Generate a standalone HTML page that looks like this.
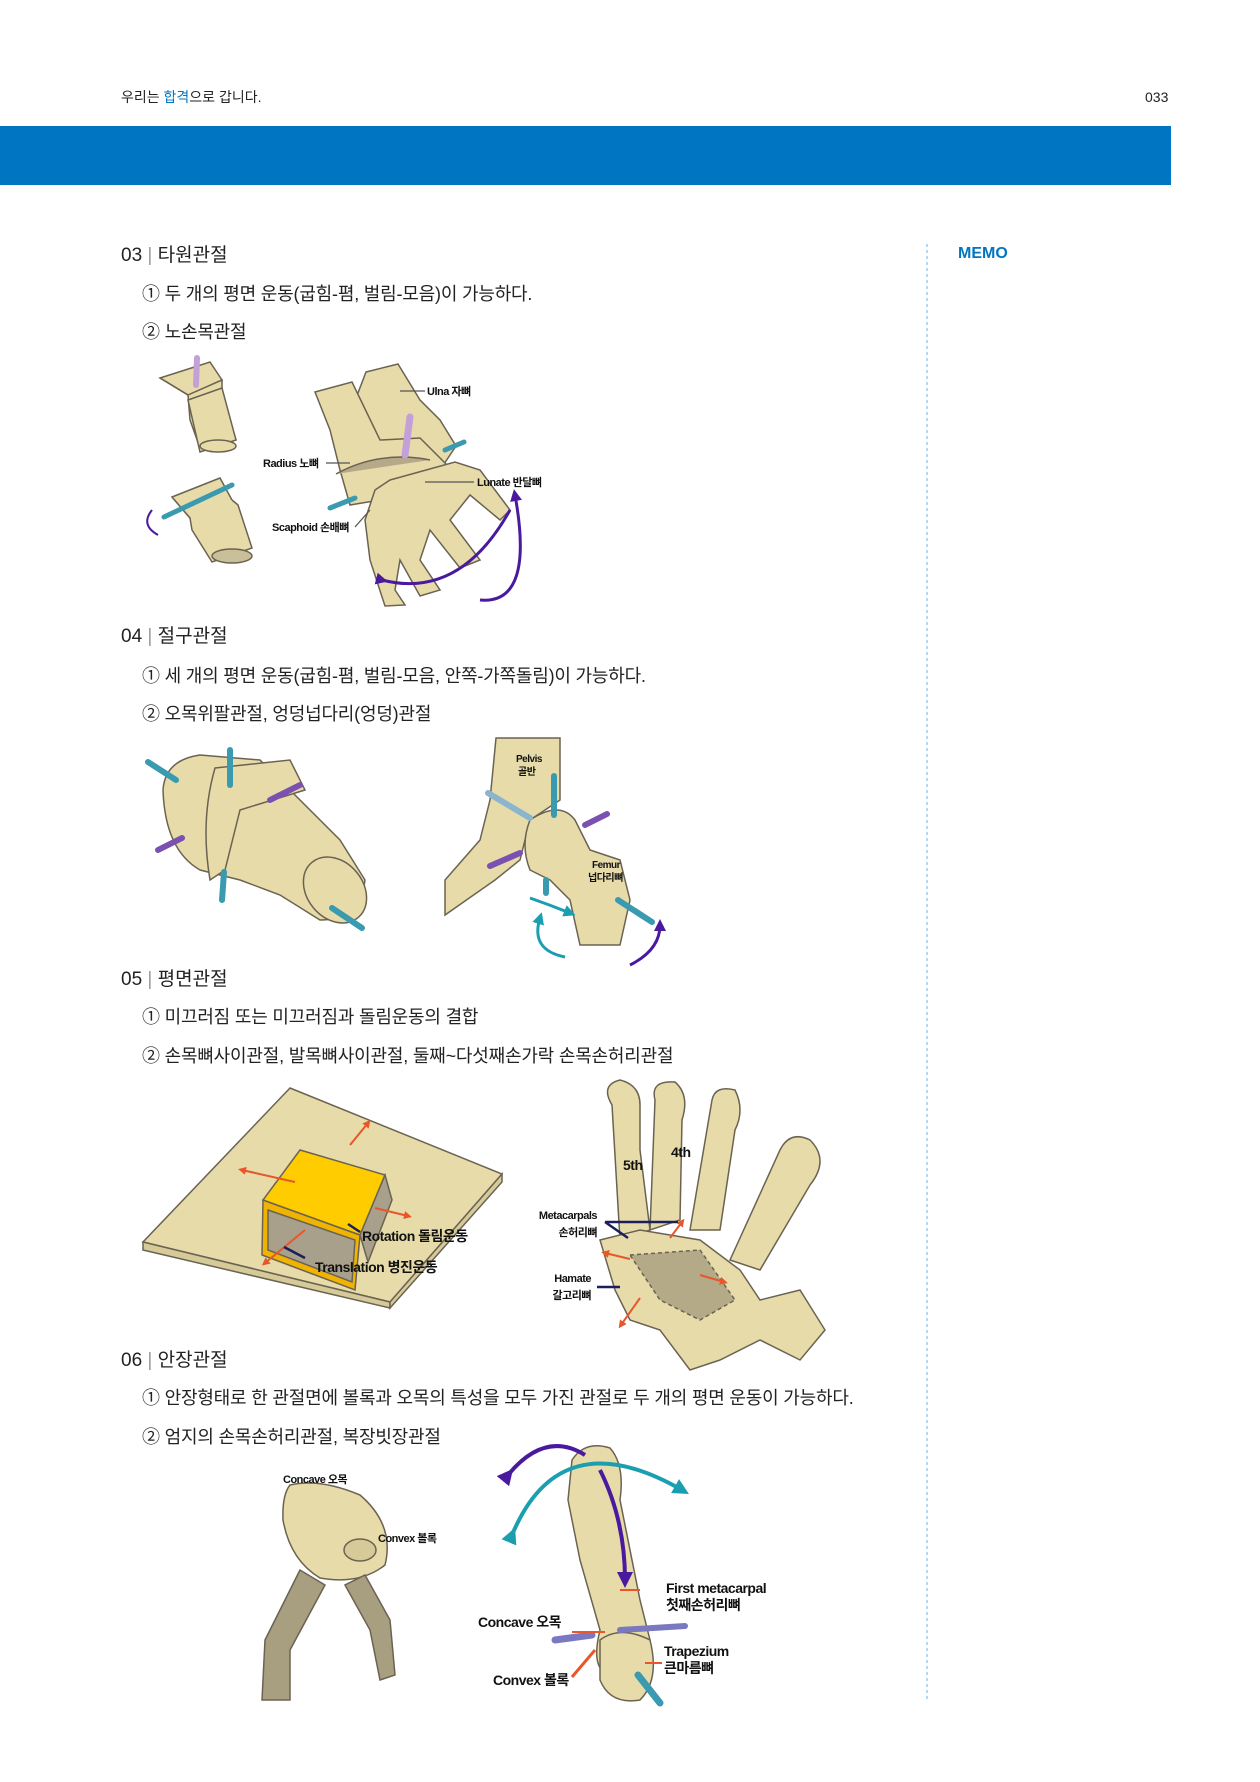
<!DOCTYPE html>
<html><head><meta charset="utf-8">
<style>
html,body{margin:0;padding:0;background:#fff;}
body{width:1260px;height:1782px;position:relative;overflow:hidden;font-family:"Liberation Sans","Noto Sans CJK KR",sans-serif;color:#222;}
.t{position:absolute;white-space:nowrap;line-height:1;}
.b{font-size:18px;letter-spacing:-0.2px;}
svg{position:absolute;left:0;top:0;}
</style></head><body>
<svg width="1260" height="1782" viewBox="0 0 1260 1782" font-family="Liberation Sans, Noto Sans CJK KR, sans-serif">
<defs>
<marker id="ap" viewBox="0 0 10 10" refX="5" refY="5" markerWidth="4" markerHeight="4" orient="auto"><path d="M0,0L10,5L0,10z" fill="#4a1a9e"/></marker>
<marker id="ao" viewBox="0 0 10 10" refX="5" refY="5" markerWidth="4" markerHeight="4" orient="auto"><path d="M0,0L10,5L0,10z" fill="#e8562a"/></marker>
<marker id="at" viewBox="0 0 10 10" refX="5" refY="5" markerWidth="4" markerHeight="4" orient="auto"><path d="M0,0L10,5L0,10z" fill="#1a9eb0"/></marker>
</defs>
<rect x="0" y="126" width="1171" height="59" fill="#0075c2"/>
<line x1="927" y1="244" x2="927" y2="1700" stroke="#6fb1e0" stroke-dasharray="3,3" stroke-width="1"/>

<g fill="#e6dba9" stroke="#6b6352" stroke-width="1.5">
<path d="M160 378 L210 362 L222 380 L188 395 Z"/>
<path d="M160 378 L188 395 L190 420 L200 448 L236 440 L222 395 L222 380 L188 395"/>
<path d="M188 400 L222 388 L236 440 L200 452 Z"/>
<ellipse cx="218" cy="446" rx="18" ry="6"/>
<path d="M172 497 L220 478 L232 500 L190 518 Z"/>
<path d="M172 497 L190 518 L192 530 L212 562 L252 548 L238 505 L232 500"/>
<ellipse cx="232" cy="556" rx="20" ry="7" fill="#c9bf98"/>
<path d="M366 372 L398 364 L420 400 L440 420 L456 446 L440 470 L380 482 L345 470 L340 440 Z"/>
<path d="M315 392 L352 382 L380 440 L420 438 L452 470 L420 490 L380 500 L350 505 L340 470 L330 430 Z"/>
<path d="M390 480 L455 462 L480 470 L510 510 L500 520 L470 495 L450 520 L480 560 L460 568 L430 530 L420 560 L440 590 L420 596 L400 560 L395 590 L405 605 L385 606 L370 560 L365 520 L375 490 Z"/>
<path d="M336 474 Q380 450 430 460" fill="#b5a98a"/>
<path d="M163 790 Q165 760 200 755 L260 760 L300 800 L340 840 L365 880 Q360 920 320 920 L280 895 L240 880 L200 870 Q165 850 163 790 Z"/>
<path d="M215 768 L290 760 L305 790 L240 810 L225 870 L210 880 Q200 820 215 768 Z" fill="#e6dba9"/>
<ellipse cx="335" cy="890" rx="28" ry="36" transform="rotate(-40 335 890)"/>
<path d="M496 738 L560 738 L560 800 L530 820 L520 860 L495 880 L445 915 L445 880 L480 840 L490 800 Z"/>
<path d="M530 820 Q560 800 575 820 L590 850 L620 860 L630 900 L620 945 L580 945 L570 900 L550 880 L530 870 Q520 845 530 820 Z"/>
<path d="M290 1088 L502 1174 L390 1302 L143 1242 Z"/>
<path d="M143 1242 L390 1302 L390 1308 L143 1250 Z" fill="#d6cb98"/>
<path d="M502 1174 L502 1182 L390 1308 L390 1302 Z" fill="#d6cb98"/>
<path d="M263 1200 L360 1235 L355 1290 L262 1255 Z" fill="#f0b400"/>
<path d="M300 1150 L385 1175 L360 1235 L263 1200 Z" fill="#ffcc00"/>
<path d="M385 1175 L392 1200 L368 1262 L360 1235 Z" fill="#a8a08a"/>
<path d="M268 1210 L355 1240 L352 1282 L268 1250 Z" fill="#a8a08a"/>
<path d="M612 1105 Q600 1085 620 1080 Q640 1085 640 1105 L640 1150 L650 1230 L620 1240 Z"/>
<path d="M655 1100 Q650 1080 675 1082 Q690 1095 682 1120 L680 1220 L650 1230 Z"/>
<path d="M712 1100 Q715 1085 735 1090 Q745 1110 735 1130 L720 1230 L690 1230 Z"/>
<path d="M780 1150 Q790 1130 810 1140 Q830 1160 810 1185 L760 1270 L730 1260 Z"/>
<path d="M600 1240 L640 1230 L700 1240 L740 1270 L760 1300 L800 1290 L825 1330 L800 1360 L760 1340 L720 1360 L690 1370 L660 1330 L630 1320 L615 1290 Z"/>
<path d="M630 1255 L700 1250 L735 1300 L700 1320 L660 1300 Z" fill="#b5aa88" stroke-dasharray="4,3"/>
<path d="M290 1485 Q320 1478 360 1495 Q395 1525 385 1565 Q360 1585 320 1578 Q290 1560 283 1520 Q282 1495 290 1485 Z"/>
<ellipse cx="360" cy="1550" rx="16" ry="11" fill="#d6cb98"/>
<path d="M300 1570 L265 1640 L262 1700 L290 1700 L290 1650 L325 1585 Z" fill="#a89e80"/>
<path d="M345 1585 L370 1630 L380 1680 L395 1675 L390 1620 L365 1575 Z" fill="#a89e80"/>
<path d="M572 1460 Q585 1440 610 1448 Q625 1465 620 1500 L640 1600 L650 1640 Q640 1670 610 1675 Q590 1670 600 1630 L580 1560 L568 1500 Z"/>
<path d="M600 1640 Q620 1625 650 1640 Q660 1680 640 1700 Q610 1705 600 1680 Z"/>
</g>
<g stroke-linecap="round">
<line x1="197" y1="358" x2="196" y2="385" stroke="#c4a0d8" stroke-width="6"/>
<line x1="164" y1="517" x2="232" y2="485" stroke="#3a9ab0" stroke-width="5"/>
<line x1="410" y1="417" x2="405" y2="455" stroke="#c4a0d8" stroke-width="7"/>
<line x1="445" y1="450" x2="464" y2="442" stroke="#3a9ab0" stroke-width="5"/>
<line x1="330" y1="508" x2="355" y2="498" stroke="#3a9ab0" stroke-width="5"/>
<line x1="148" y1="762" x2="176" y2="780" stroke="#3a9ab0" stroke-width="6"/>
<line x1="230" y1="750" x2="230" y2="785" stroke="#3a9ab0" stroke-width="6"/>
<line x1="270" y1="800" x2="300" y2="785" stroke="#7a50b0" stroke-width="6"/>
<line x1="158" y1="850" x2="182" y2="838" stroke="#7a50b0" stroke-width="6"/>
<line x1="224" y1="872" x2="222" y2="900" stroke="#3a9ab0" stroke-width="6"/>
<line x1="332" y1="908" x2="362" y2="928" stroke="#3a9ab0" stroke-width="6"/>
<line x1="488" y1="793" x2="530" y2="818" stroke="#8ab5cc" stroke-width="6"/>
<line x1="554" y1="776" x2="554" y2="815" stroke="#3a9ab0" stroke-width="6"/>
<line x1="585" y1="825" x2="607" y2="814" stroke="#7a50b0" stroke-width="6"/>
<line x1="490" y1="866" x2="520" y2="853" stroke="#7a50b0" stroke-width="6"/>
<line x1="546" y1="880" x2="546" y2="893" stroke="#3a9ab0" stroke-width="6"/>
<line x1="618" y1="900" x2="652" y2="922" stroke="#3a9ab0" stroke-width="6"/>
<line x1="555" y1="1640" x2="592" y2="1635" stroke="#7a78c0" stroke-width="7"/>
<line x1="620" y1="1630" x2="685" y2="1626" stroke="#7a78c0" stroke-width="6"/>
<line x1="638" y1="1675" x2="660" y2="1703" stroke="#3a9ab0" stroke-width="7"/>
</g>
<g fill="none" stroke-width="3">
<path d="M382 580 Q460 600 510 510" stroke="#4a1a9e" marker-start="url(#ap)"/>
<path d="M480 600 Q535 605 515 495" stroke="#4a1a9e" marker-end="url(#ap)"/>
<path d="M152 510 Q140 525 158 535" stroke="#4a1a9e" stroke-width="2"/>
<path d="M530 898 Q550 905 570 913" stroke="#1a9eb0" marker-end="url(#at)"/>
<path d="M565 957 Q530 950 540 918" stroke="#1a9eb0" marker-end="url(#at)"/>
<path d="M630 965 Q660 950 660 925" stroke="#4a1a9e" marker-end="url(#ap)"/>
<path d="M595 1650 L572 1677" stroke="#e8562a"/>
<path d="M508 1475 Q545 1430 585 1455" stroke="#4a1a9e" stroke-width="4" marker-start="url(#ap)"/>
<path d="M512 1535 Q560 1420 682 1490" stroke="#1a9eb0" stroke-width="4" marker-start="url(#at)" marker-end="url(#at)"/>
<path d="M600 1470 Q625 1520 625 1580" stroke="#4a1a9e" stroke-width="4" marker-end="url(#ap)"/>
</g>
<g stroke="#e8562a" stroke-width="2" fill="none">
<line x1="350" y1="1145" x2="368" y2="1123" marker-end="url(#ao)"/>
<line x1="295" y1="1182" x2="242" y2="1170" marker-end="url(#ao)"/>
<line x1="375" y1="1208" x2="408" y2="1216" marker-end="url(#ao)"/>
<line x1="305" y1="1230" x2="265" y2="1263" marker-end="url(#ao)"/>
<line x1="630" y1="1259" x2="605" y2="1253" marker-end="url(#ao)"/>
<line x1="670" y1="1238" x2="682" y2="1222" marker-end="url(#ao)"/>
<line x1="700" y1="1275" x2="724" y2="1282" marker-end="url(#ao)"/>
<line x1="640" y1="1298" x2="621" y2="1325" marker-end="url(#ao)"/>
<line x1="620" y1="1590" x2="640" y2="1590"/><line x1="572" y1="1632" x2="605" y2="1632"/><line x1="645" y1="1663" x2="662" y2="1663"/>
</g>
<g stroke="#555" stroke-width="1.3">
<line x1="400" y1="391" x2="425" y2="391"/><line x1="326" y1="463" x2="350" y2="463"/><line x1="425" y1="482" x2="474" y2="482"/><line x1="355" y1="527" x2="370" y2="510"/>
</g>
<g stroke="#1a1f5e" stroke-width="2.5"><line x1="348" y1="1224" x2="360" y2="1232"/><line x1="284" y1="1247" x2="305" y2="1258"/>
<line x1="605" y1="1222" x2="678" y2="1222"/><line x1="605" y1="1222" x2="628" y2="1238"/><line x1="597" y1="1287" x2="620" y2="1287"/></g>
<g font-size="11" font-weight="bold" fill="#111" letter-spacing="-0.5">
<text x="427" y="395">Ulna 자뼈</text>
<text x="263" y="467">Radius 노뼈</text>
<text x="477" y="486">Lunate 반달뼈</text>
<text x="272" y="531">Scaphoid 손배뼈</text>
<text x="516" y="762" font-size="10">Pelvis</text><text x="518" y="775" font-size="10">골반</text>
<text x="592" y="868" font-size="10">Femur</text><text x="588" y="881" font-size="10">넙다리뼈</text>
<text x="362" y="1241" font-size="14">Rotation 돌림운동</text>
<text x="315" y="1272" font-size="14">Translation 병진운동</text>
<text x="623" y="1170" font-size="14">5th</text><text x="671" y="1157" font-size="14">4th</text>
<text x="597" y="1219" text-anchor="end">Metacarpals</text><text x="597" y="1236" text-anchor="end">손허리뼈</text>
<text x="591" y="1282" text-anchor="end">Hamate</text><text x="591" y="1299" text-anchor="end">갈고리뼈</text>
<text x="283" y="1483">Concave 오목</text>
<text x="378" y="1542">Convex 볼록</text>
<text x="666" y="1593" font-size="14">First metacarpal</text><text x="666" y="1610" font-size="14">첫째손허리뼈</text>
<text x="478" y="1627" font-size="14">Concave 오목</text>
<text x="664" y="1656" font-size="14">Trapezium</text><text x="664" y="1673" font-size="14">큰마름뼈</text>
<text x="493" y="1685" font-size="14">Convex 볼록</text>
</g>
</svg>

<div class="t" style="left:121px;top:90px;font-size:14px;">우리는 <span style="color:#0075c2">합격</span>으로 갑니다.</div>
<div class="t" style="left:1145px;top:90px;font-size:14px;">033</div>
<div class="t" style="left:958px;top:246px;font-size:16px;font-weight:bold;color:#0075c2;">MEMO</div>

<div class="t" style="left:121px;top:246px;font-size:19px;">03 <span style="color:#999">|</span> 타원관절</div>
<div class="t b" style="left:142px;top:285px;">① 두 개의 평면 운동(굽힘-폄, 벌림-모음)이 가능하다.</div>
<div class="t b" style="left:142px;top:323px;">② 노손목관절</div>

<div class="t" style="left:121px;top:627px;font-size:19px;">04 <span style="color:#999">|</span> 절구관절</div>
<div class="t b" style="left:142px;top:667px;">① 세 개의 평면 운동(굽힘-폄, 벌림-모음, 안쪽-가쪽돌림)이 가능하다.</div>
<div class="t b" style="left:142px;top:705px;">② 오목위팔관절, 엉덩넙다리(엉덩)관절</div>

<div class="t" style="left:121px;top:970px;font-size:19px;">05 <span style="color:#999">|</span> 평면관절</div>
<div class="t b" style="left:142px;top:1008px;">① 미끄러짐 또는 미끄러짐과 돌림운동의 결합</div>
<div class="t b" style="left:142px;top:1047px;">② 손목뼈사이관절, 발목뼈사이관절, 둘째~다섯째손가락 손목손허리관절</div>

<div class="t" style="left:121px;top:1351px;font-size:19px;">06 <span style="color:#999">|</span> 안장관절</div>
<div class="t b" style="left:142px;top:1389px;">① 안장형태로 한 관절면에 볼록과 오목의 특성을 모두 가진 관절로 두 개의 평면 운동이 가능하다.</div>
<div class="t b" style="left:142px;top:1428px;">② 엄지의 손목손허리관절, 복장빗장관절</div>
</body></html>
